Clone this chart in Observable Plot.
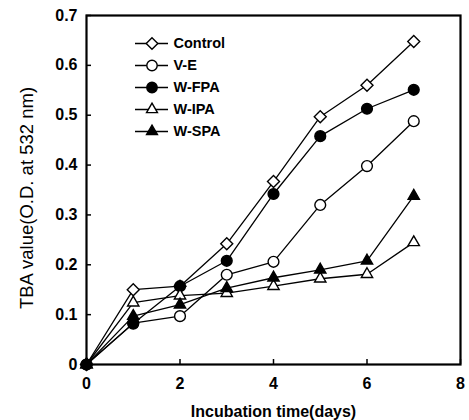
<!DOCTYPE html>
<html>
<head>
<meta charset="utf-8">
<script src="https://cdn.jsdelivr.net/npm/d3@7"></script>
<script src="https://cdn.jsdelivr.net/npm/@observablehq/plot@0.6"></script>
<style>
  html, body { margin: 0; padding: 0; background: #fff; }
  #wrap { position: relative; width: 469px; height: 420px; }
  #legend { position: absolute; left: 130px; top: 32px; }
</style>
</head>
<body>
<div id="wrap"><div id="chart"></div><div id="legend"></div></div>
<script>
const days = [0, 1, 2, 3, 4, 5, 6, 7];
const seriesNames = ["Control", "V-E", "W-FPA", "W-IPA", "W-SPA"];
const control = [0, 0.15, 0.157, 0.242, 0.367, 0.497, 0.56, 0.648];
const ve      = [0, 0.083, 0.097, 0.18, 0.206, 0.32, 0.398, 0.488];
const wfpa    = [0, 0.082, 0.157, 0.208, 0.342, 0.458, 0.513, 0.551];
const wipa    = [0, 0.124, 0.138, 0.143, 0.157, 0.172, 0.181, 0.245];
const wspa    = [0, 0.097, 0.12, 0.153, 0.174, 0.19, 0.208, 0.338];
const xTicks = [0, 2, 4, 6, 8];
const yTicks = [0, 0.1, 0.2, 0.3, 0.4, 0.5, 0.6, 0.7];
const xTitle = "Incubation time(days)";
const yTitle = "TBA value(O.D. at 532 nm)";

const valuesBySeries = [control, ve, wfpa, wipa, wspa];
const symbolOf = {"Control": "diamond2", "V-E": "circle", "W-FPA": "circle", "W-IPA": "triangle2", "W-SPA": "triangle2"};
const fillOf = {"Control": "white", "V-E": "white", "W-FPA": "black", "W-IPA": "white", "W-SPA": "black"};

const data = seriesNames.flatMap((name, s) =>
  days.map((d, i) => ({series: name, day: d, value: valuesBySeries[s][i]})));

const font = "Liberation Sans, Arial, sans-serif";

const chart = Plot.plot({
  width: 469,
  height: 420,
  marginLeft: 86,
  marginRight: 9,
  marginTop: 15,
  marginBottom: 56,
  style: {fontFamily: font, fontSize: "16px", fontWeight: "bold", color: "black", background: "white"},
  x: {domain: [0, 8]},
  y: {domain: [0, 0.7]},
  marks: [
    Plot.axisX({ticks: xTicks, tickSize: -5, tickFormat: () => "", label: null, strokeWidth: 1.5}),
    Plot.axisX({ticks: xTicks, tickSize: 0, tickPadding: 13, label: null, fontSize: 16, fontWeight: "bold"}),
    Plot.axisY({ticks: yTicks, tickSize: -5, tickFormat: () => "", label: null, strokeWidth: 1.5}),
    Plot.axisY({ticks: yTicks, tickSize: 0, tickPadding: 9, label: null, fontSize: 16, fontWeight: "bold",
      tickFormat: d => d === 0 ? "0" : d.toFixed(1)}),
    Plot.line(data, {x: "day", y: "value", z: "series", stroke: "black", strokeWidth: 1.3}),
    Plot.dot(data, {x: "day", y: "value", symbol: d => symbolOf[d.series], fill: d => fillOf[d.series],
      stroke: "black", strokeWidth: 1.4, r: 5.4}),
    Plot.frame({stroke: "black", strokeWidth: 2.2}),
    Plot.text([xTitle], {frameAnchor: "bottom", dy: 47, text: d => d, fontSize: 16, fontWeight: "bold", lineAnchor: "middle"}),
    Plot.text([yTitle], {frameAnchor: "left", dx: -59, dy: 8, rotate: -90, text: d => d, fontSize: 18.5, fontWeight: "normal",
      textAnchor: "middle", lineAnchor: "middle"})
  ]
});
document.getElementById("chart").append(chart);

const legend = Plot.plot({
  width: 120,
  height: 112,
  margin: 0,
  style: {fontFamily: font, fontSize: "14.5px", fontWeight: "bold", background: "transparent"},
  x: {domain: [0, 1], range: [5, 38], axis: null},
  y: {type: "point", domain: seriesNames, range: [11, 99], padding: 0, axis: null},
  marks: [
    Plot.ruleY(seriesNames, {y: d => d, x1: 0, x2: 1, stroke: "black", strokeWidth: 1.5}),
    Plot.dot(seriesNames, {x: 0.5, y: d => d, symbol: d => symbolOf[d], fill: d => fillOf[d], stroke: "black", strokeWidth: 1.4, r: 5.2}),
    Plot.text(seriesNames, {x: 1, y: d => d, text: d => d, dx: 5, textAnchor: "start", fill: "black"})
  ]
});
document.getElementById("legend").append(legend);
</script>
</body>
</html>
